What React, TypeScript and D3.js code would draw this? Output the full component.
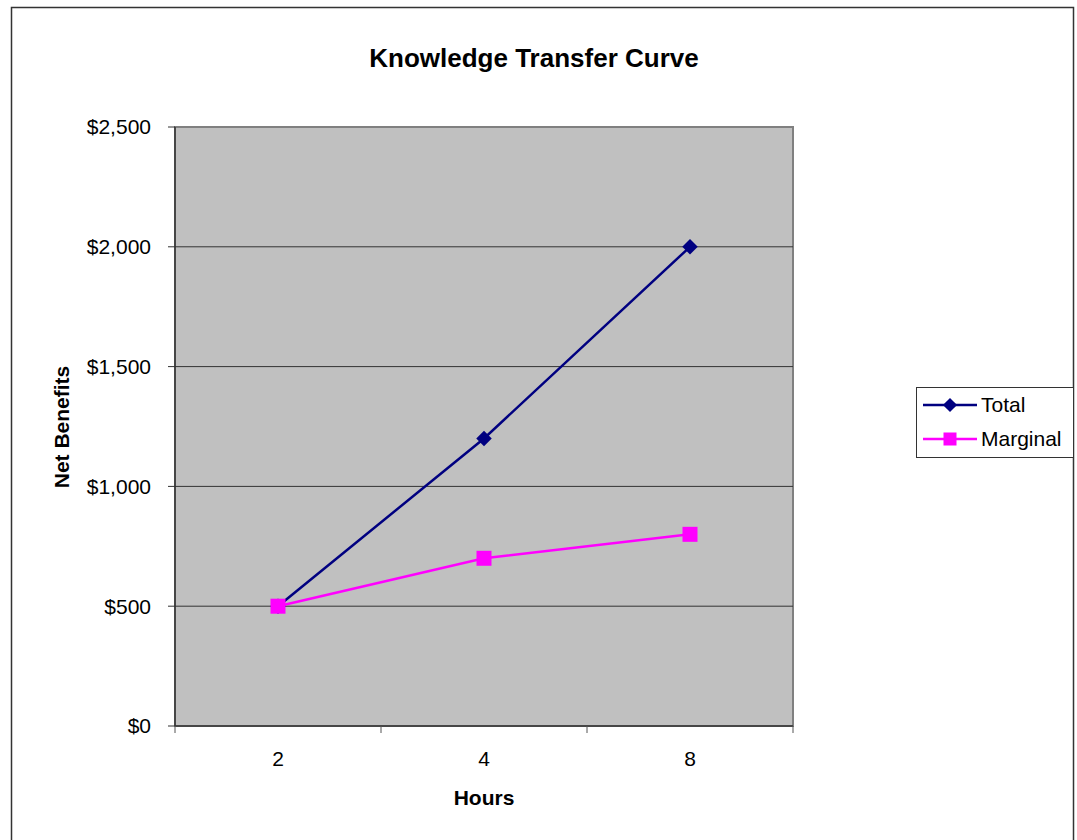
import React from "react";
import * as d3 from "d3";

const categories = ["2", "4", "8"];
const totalValues = [500, 1200, 2000];
const marginalValues = [500, 700, 800];
const yTicks = [0, 500, 1000, 1500, 2000, 2500];
const seriesNames = ["Total", "Marginal"];

export default function App() {
  const W = 1077, H = 840;
  const left = 175, right = 793, top = 127, bottom = 726;
  const x = d3.scaleBand<string>().domain(categories).range([left, right]).padding(0);
  const y = d3.scaleLinear().domain([0, 2500]).range([bottom, top]);
  const cx = (c: string) => (x(c) as number) + x.bandwidth() / 2;
  const line = d3.line<number>().x((_, i) => cx(categories[i])).y((v) => y(v));
  const fmt = (v: number) => "$" + d3.format(",")(v);
  const font = "'Liberation Sans', Arial, sans-serif";
  const navy = "#000080";
  const magenta = "#FF00FF";
  const bounds = [...categories.map((c) => x(c) as number), right];

  return (
    <svg width={W} height={H} style={{ position: "absolute", left: 0, top: 0 }} fontFamily={font}>
      <rect x={0} y={0} width={W} height={H} fill="#fff" />
      <rect x={11.5} y={7.5} width={1062} height={860} fill="#fff" stroke="#333" strokeWidth={1.5} />
      <text x={534} y={67} textAnchor="middle" fontSize={26} fontWeight="bold">Knowledge Transfer Curve</text>
      <rect x={left} y={top} width={right - left} height={bottom - top} fill="#C0C0C0" stroke="#808080" strokeWidth={2} />
      {yTicks.filter((t) => t > 0 && t < 2500).map((t) => (
        <line key={t} x1={left} x2={right} y1={y(t)} y2={y(t)} stroke="#333" strokeWidth={1} />
      ))}
      <line x1={left} x2={left} y1={top} y2={bottom} stroke="#333" strokeWidth={1.5} />
      <line x1={left} x2={right} y1={bottom} y2={bottom} stroke="#333" strokeWidth={1.5} />
      {yTicks.map((t) => (
        <g key={t}>
          <line x1={168} x2={left} y1={y(t)} y2={y(t)} stroke="#333" />
          <text x={151} y={y(t)} dy="0.35em" textAnchor="end" fontSize={21}>{fmt(t)}</text>
        </g>
      ))}
      {bounds.map((b, i) => (
        <line key={i} x1={b} x2={b} y1={bottom} y2={bottom + 7} stroke="#555" />
      ))}
      {categories.map((c) => (
        <text key={c} x={cx(c)} y={766} textAnchor="middle" fontSize={21}>{c}</text>
      ))}
      <text x={484} y={805} textAnchor="middle" fontSize={21} fontWeight="bold">Hours</text>
      <text transform={`translate(69,427) rotate(-90)`} textAnchor="middle" fontSize={21} fontWeight="bold">Net Benefits</text>
      <path d={line(totalValues) || ""} fill="none" stroke={navy} strokeWidth={2.5} />
      <path d={line(marginalValues) || ""} fill="none" stroke={magenta} strokeWidth={2.5} />
      {totalValues.map((v, i) => (
        <rect key={i} x={-5.5} y={-5.5} width={11} height={11} fill={navy}
          transform={`translate(${cx(categories[i])},${y(v)}) rotate(45)`} />
      ))}
      {marginalValues.map((v, i) => (
        <rect key={i} x={cx(categories[i]) - 7.5} y={y(v) - 7.5} width={15} height={15} fill={magenta} />
      ))}
      <rect x={916.5} y={387.5} width={157} height={70} fill="#fff" stroke="#333" strokeWidth={1} />
      <g>
        <line x1={923} x2={977} y1={405} y2={405} stroke={navy} strokeWidth={2.5} />
        <rect x={-5} y={-5} width={10} height={10} fill={navy} transform="translate(950,405) rotate(45)" />
        <text x={981} y={405} dy="0.35em" fontSize={21}>{seriesNames[0]}</text>
        <line x1={923} x2={977} y1={439} y2={439} stroke={magenta} strokeWidth={2.5} />
        <rect x={943.5} y={432.5} width={13} height={13} fill={magenta} />
        <text x={981} y={439} dy="0.35em" fontSize={21}>{seriesNames[1]}</text>
      </g>
    </svg>
  );
}
